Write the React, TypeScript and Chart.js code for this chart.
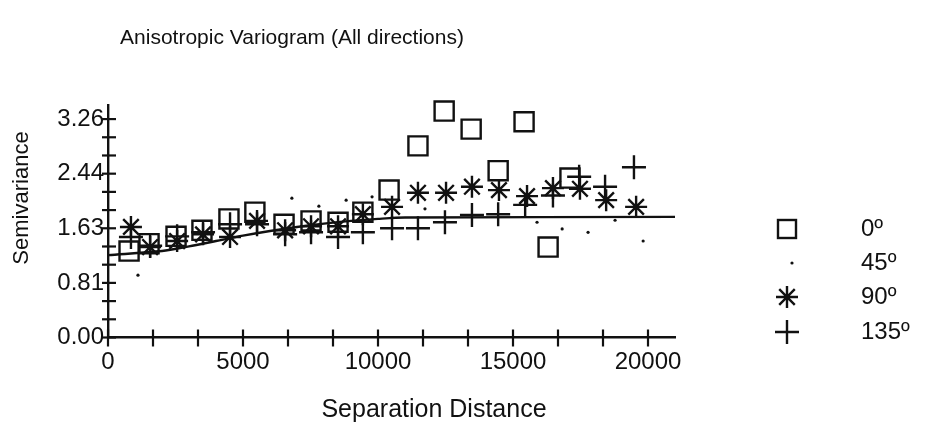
import React, { useEffect, useRef } from 'react';
import { Chart, registerables } from 'chart.js';

Chart.register(...registerables);

// ---- data ----
const dist0 = [780, 1520, 2520, 3480, 4480, 5440, 6520, 7520, 8520, 9440, 10410, 11480, 12450, 13450, 14450, 15410, 16300, 17110];
const val0 = [1.29, 1.40, 1.51, 1.60, 1.77, 1.87, 1.69, 1.74, 1.72, 1.87, 2.20, 2.86, 3.38, 3.11, 2.49, 3.22, 1.35, 2.38];

const dist45 = [1110, 6810, 7810, 8820, 9780, 11740, 15890, 16820, 17780, 18780, 19820];
const val45 = [0.93, 2.08, 1.96, 2.05, 2.10, 1.92, 1.72, 1.62, 1.57, 1.75, 1.44];

const dist90 = [850, 1560, 2560, 3520, 4520, 5520, 6560, 7520, 8520, 9440, 10520, 11480, 12520, 13480, 14480, 15520, 16480, 17480, 18450, 19560];
const val90 = [1.65, 1.35, 1.44, 1.54, 1.50, 1.74, 1.60, 1.66, 1.66, 1.84, 1.95, 2.16, 2.16, 2.25, 2.20, 2.11, 2.23, 2.22, 2.05, 1.95];

const dist135 = [850, 1560, 2560, 3520, 4520, 5520, 6560, 7520, 8520, 9440, 10520, 11480, 12480, 13480, 14450, 15450, 16480, 17450, 18410, 19480];
const val135 = [1.50, 1.37, 1.51, 1.57, 1.69, 1.69, 1.54, 1.57, 1.50, 1.57, 1.63, 1.63, 1.72, 1.83, 1.84, 1.98, 2.12, 2.40, 2.25, 2.54];

const modelDist = [0, 2000, 3000, 4000, 5000, 6000, 7000, 8000, 9000, 10000, 11000, 21000];
const modelVal = [1.23, 1.29, 1.36, 1.44, 1.52, 1.59, 1.65, 1.70, 1.74, 1.77, 1.79, 1.80];

const seriesLabels = ['0º', '45º', '90º', '135º'];

const xMajorTicks = [0, 5000, 10000, 15000, 20000];
const xTickLabels = ['0', '5000', '10000', '15000', '20000'];
const yMajorTicks = [0, 0.815, 1.63, 2.445, 3.26];
const yTickLabels = ['0.00', '0.81', '1.63', '2.44', '3.26'];
const minorPerMajor = 3;

const titleText = 'Anisotropic Variogram (All directions)';
const xTitleText = 'Separation Distance';
const yTitleText = 'Semivariance';

const INK = '#111111';
const FONT = '"Liberation Sans", Arial, sans-serif';

const toPts = (xs: number[], ys: number[]) => xs.map((x, i) => ({ x, y: ys[i] }));

const withMinor = (majors: number[]) => {
  const out: number[] = [];
  for (let i = 0; i < majors.length; i++) {
    out.push(majors[i]);
    if (i < majors.length - 1) {
      const step = (majors[i + 1] - majors[i]) / minorPerMajor;
      for (let k = 1; k < minorPerMajor; k++) out.push(majors[i] + k * step);
    }
  }
  return out;
};

const labelFor = (v: number, majors: number[], labels: string[]) => {
  const i = majors.findIndex((m) => Math.abs(m - v) < 1e-6);
  return i >= 0 ? labels[i] : '';
};

const decorPlugin = {
  id: 'decor',
  afterDraw(chart: any) {
    const ctx = chart.ctx as CanvasRenderingContext2D;
    const { left, bottom } = chart.chartArea;
    const xs = chart.scales.x;
    const ys = chart.scales.y;
    ctx.save();
    ctx.strokeStyle = INK;
    ctx.fillStyle = INK;
    ctx.lineWidth = 2.2;
    // crossing tick marks
    xs.ticks.forEach((t: any) => {
      const px = xs.getPixelForValue(t.value);
      ctx.beginPath();
      ctx.moveTo(px, bottom - 8);
      ctx.lineTo(px, bottom + 9);
      ctx.stroke();
    });
    ys.ticks.forEach((t: any) => {
      const py = ys.getPixelForValue(t.value);
      ctx.beginPath();
      ctx.moveTo(left - 6, py);
      ctx.lineTo(left + 8, py);
      ctx.stroke();
    });
    // titles
    ctx.textAlign = 'center';
    ctx.textBaseline = 'middle';
    ctx.font = `21px ${FONT}`;
    ctx.fillText(titleText, 292, 38);
    ctx.font = `25px ${FONT}`;
    ctx.fillText(xTitleText, 434, 410);
    ctx.font = `22px ${FONT}`;
    ctx.save();
    ctx.translate(22, 198);
    ctx.rotate(-Math.PI / 2);
    ctx.fillText(yTitleText, 0, 0);
    ctx.restore();

    // legend
    const rows = [229, 263, 297, 332];
    const mx = 787;
    ctx.lineWidth = 2.4;
    // square
    ctx.strokeRect(mx - 9, rows[0] - 9, 18, 18);
    // dot
    ctx.beginPath();
    ctx.arc(mx + 5, rows[1], 1.6, 0, Math.PI * 2);
    ctx.fill();
    // star
    const r = 11;
    ctx.beginPath();
    for (let k = 0; k < 4; k++) {
      const a = (k * Math.PI) / 4;
      ctx.moveTo(mx - Math.cos(a) * r, rows[2] - Math.sin(a) * r);
      ctx.lineTo(mx + Math.cos(a) * r, rows[2] + Math.sin(a) * r);
    }
    ctx.stroke();
    // cross
    ctx.beginPath();
    ctx.moveTo(mx - 12, rows[3]);
    ctx.lineTo(mx + 12, rows[3]);
    ctx.moveTo(mx, rows[3] - 12);
    ctx.lineTo(mx, rows[3] + 12);
    ctx.stroke();

    ctx.font = `24px ${FONT}`;
    ctx.textAlign = 'left';
    seriesLabels.forEach((lab, i) => ctx.fillText(lab, 861, rows[i]));
    ctx.restore();
  },
};

export default function App() {
  const ref = useRef<HTMLCanvasElement | null>(null);

  useEffect(() => {
    document.body.style.margin = '0';
    const canvas = ref.current;
    if (!canvas) return;
    const chart = new Chart(canvas, {
      type: 'scatter',
      data: {
        datasets: [
          {
            label: seriesLabels[0],
            data: toPts(dist0, val0),
            pointStyle: 'rect',
            pointRadius: 13.5,
            borderColor: INK,
            borderWidth: 2.4,
            backgroundColor: 'rgba(0,0,0,0)',
            clip: false,
          },
          {
            label: seriesLabels[1],
            data: toPts(dist45, val45),
            pointStyle: 'circle',
            pointRadius: 1.6,
            borderWidth: 0,
            backgroundColor: INK,
            borderColor: INK,
            clip: false,
          },
          {
            label: seriesLabels[2],
            data: toPts(dist90, val90),
            pointStyle: 'star',
            pointRadius: 11,
            borderColor: INK,
            borderWidth: 2.4,
            backgroundColor: INK,
            clip: false,
          },
          {
            label: seriesLabels[3],
            data: toPts(dist135, val135),
            pointStyle: 'cross',
            pointRadius: 12,
            borderColor: INK,
            borderWidth: 2.4,
            backgroundColor: INK,
            clip: false,
          },
          {
            type: 'line',
            label: 'model',
            data: toPts(modelDist, modelVal),
            showLine: true,
            pointRadius: 0,
            borderColor: INK,
            borderWidth: 2.4,
            fill: false,
            tension: 0.3,
          } as any,
        ],
      },
      options: {
        responsive: false,
        animation: false,
        devicePixelRatio: 1,
        layout: { padding: { top: 105, right: 252, left: 0, bottom: 0 } },
        plugins: {
          legend: { display: false },
          tooltip: { enabled: false },
          title: { display: false },
        },
        scales: {
          x: {
            type: 'linear',
            min: 0,
            max: 21000,
            grid: { display: false, drawTicks: false },
            border: { display: true, color: INK, width: 2.4 },
            afterBuildTicks: (s: any) => {
              s.ticks = withMinor(xMajorTicks).map((v) => ({ value: v }));
            },
            afterFit: (s: any) => {
              s.height = 110.5;
            },
            ticks: {
              autoSkip: false,
              maxRotation: 0,
              padding: 10,
              color: INK,
              font: { family: FONT, size: 24 },
              callback: (v: any) => labelFor(Number(v), xMajorTicks, xTickLabels),
            },
          },
          y: {
            type: 'linear',
            min: 0,
            max: 3.47,
            grid: { display: false, drawTicks: false },
            border: { display: true, color: INK, width: 2.4 },
            afterBuildTicks: (s: any) => {
              s.ticks = withMinor(yMajorTicks).map((v) => ({ value: v }));
            },
            afterFit: (s: any) => {
              s.width = 108;
            },
            ticks: {
              autoSkip: false,
              padding: 4,
              color: INK,
              font: { family: FONT, size: 24 },
              callback: (v: any) => labelFor(Number(v), yMajorTicks, yTickLabels),
            },
          },
        },
      } as any,
      plugins: [decorPlugin],
    });
    return () => chart.destroy();
  }, []);

  return (
    <div style={{ position: 'absolute', left: 0, top: 0, width: 927, height: 448, background: '#fff' }}>
      <canvas ref={ref} width={927} height={448} style={{ display: 'block' }} />
    </div>
  );
}
